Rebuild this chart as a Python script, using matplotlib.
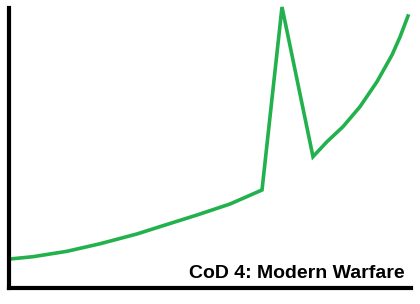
import matplotlib.pyplot as plt

# (arbitrary 0-100 scale)
x = [0.25, 5.97, 14.43, 22.64, 31.84, 38.31, 46.77, 54.98, 62.94,
     67.91,
     75.62, 79.10, 83.08, 87.31, 91.54, 95.27, 97.26, 99.25]
y = [10.36, 11.18, 13.11, 15.8, 19.3, 22.25, 26.07, 30.0, 35.0,
     100.36,
     46.89, 52.25, 57.61, 64.75, 73.68, 83.21, 89.64, 97.14]
label = "CoD 4: Modern Warfare"

fig = plt.figure(figsize=(4.2, 3.04), dpi=100)
ax = fig.add_axes([9 / 420, 16 / 304, 402 / 420, 280 / 304])

ax.plot(x, y, color="#22b14c", linewidth=2.6, clip_on=False, solid_joinstyle="miter")
ax.set_xlim(0, 100)
ax.set_ylim(0, 100)

for side in ["top", "right"]:
    ax.spines[side].set_visible(False)
for side in ["left", "bottom"]:
    ax.spines[side].set_linewidth(3)
    ax.spines[side].set_color("black")
    ax.spines[side].set_capstyle("projecting")
ax.set_xticks([])
ax.set_yticks([])

ax.text(0.983, 0.036, label, transform=ax.transAxes, ha="right", va="baseline",
        fontsize=14, fontweight="bold", family="Liberation Sans")

fig.savefig("out.png", dpi=100)
